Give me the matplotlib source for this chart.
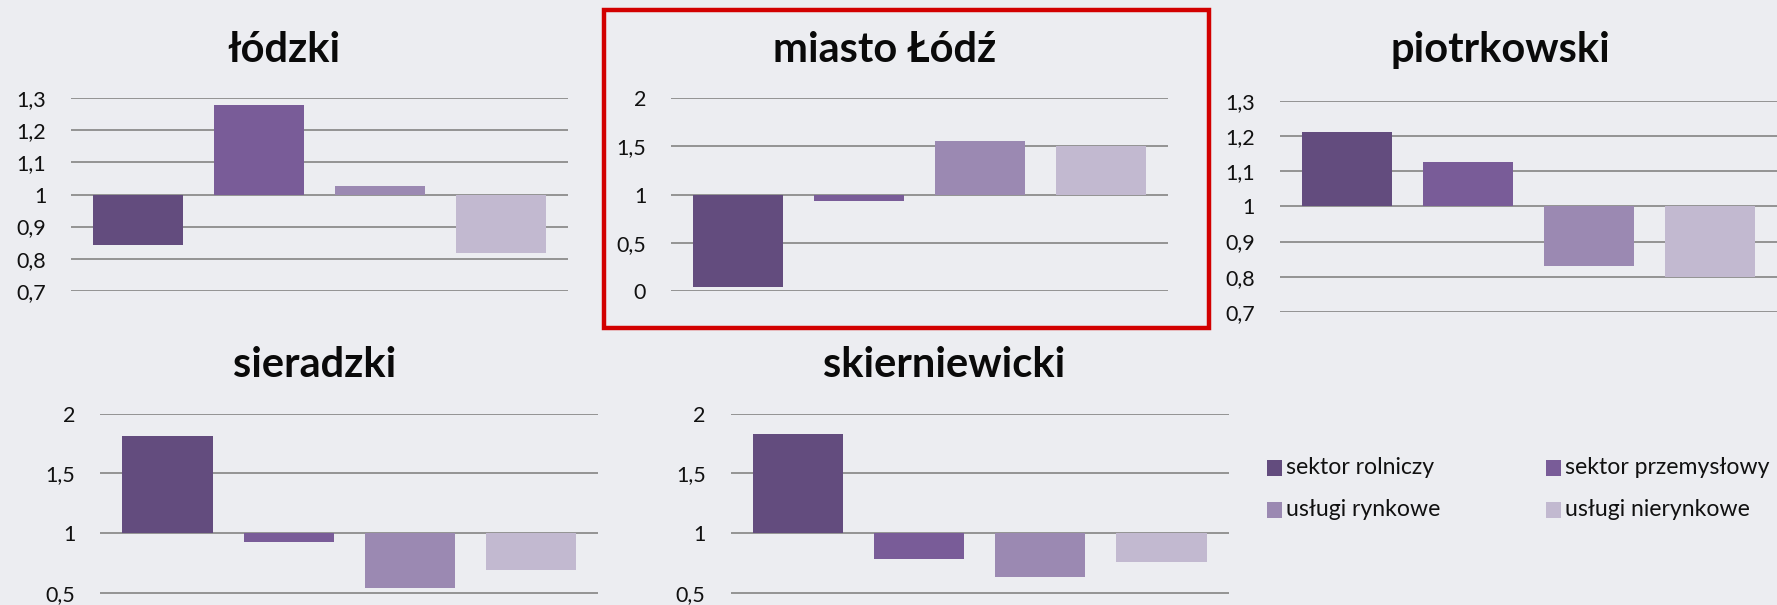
import matplotlib
matplotlib.use("Agg")
import matplotlib.pyplot as plt
from matplotlib.patches import Rectangle

# ---------------- data ----------------
series = ["sektor rolniczy", "sektor przemysłowy", "usługi rynkowe", "usługi nierynkowe"]
colors = ["#634C7E", "#795C98", "#9B89B2", "#C2B9D0"]

titles = ["łódzki", "miasto Łódź", "piotrkowski", "sieradzki", "skierniewicki"]

lodzki = [0.841, 1.280, 1.027, 0.819]
miasto_lodz = [0.035, 0.936, 1.556, 1.504]
piotrkowski = [1.210, 1.125, 0.831, 0.800]
sieradzki = [1.810, 0.925, 0.539, 0.690]
skierniewicki = [1.827, 0.779, 0.631, 0.757]

ticks_a = [0.7, 0.8, 0.9, 1.0, 1.1, 1.2, 1.3]
ticklabels_a = ["0,7", "0,8", "0,9", "1", "1,1", "1,2", "1,3"]
ticks_b = [0.0, 0.5, 1.0, 1.5, 2.0]
ticklabels_b = ["0", "0,5", "1", "1,5", "2"]

baseline = 1.0

# ---------------- layout ----------------
W, H = 1777, 605
fig = plt.figure(figsize=(W / 100, H / 100), dpi=100)
fig.patch.set_facecolor("#ECEDF1")

FONT = "Lato"

def rect(x0, x1, ytop, ybot):
    return [x0 / W, 1 - ybot / H, (x1 - x0) / W, (ybot - ytop) / H]

panels = [
    (lodzki, rect(71.2, 567.9, 98.3, 290.7), (0.7, 1.3), ticks_a, ticklabels_a, (284, 62.3)),
    (miasto_lodz, rect(671.2, 1167.8, 98.3, 290.7), (0.0, 2.0), ticks_b, ticklabels_b, (885, 62.3)),
    (piotrkowski, rect(1279.9, 1777.0, 100.7, 312.0), (0.7, 1.3), ticks_a, ticklabels_a, (1500, 62.0)),
    (sieradzki, rect(100.4, 598.3, 413.7, 652.3), (0.0, 2.0), ticks_b, ticklabels_b, (314.5, 376.7)),
    (skierniewicki, rect(730.6, 1228.6, 413.7, 652.3), (0.0, 2.0), ticks_b, ticklabels_b, (944.5, 376.7)),
]

for (vals, r, ylim, ticks, tlabels, tpos), title in zip(panels, titles):
    ax = fig.add_axes(r)
    ax.set_facecolor("none")
    xs = list(range(len(vals)))
    heights = [v - baseline for v in vals]
    ax.bar(xs, heights, bottom=baseline, width=0.743, color=colors, zorder=3)
    ax.set_xlim(-0.553, 3.553)
    ax.set_ylim(*ylim)
    ax.set_yticks(ticks)
    ax.set_yticklabels(tlabels, fontsize=15.5, family=FONT, color="#111111")
    ax.tick_params(axis="y", length=0, pad=18)
    ax.set_xticks([])
    for s in ax.spines.values():
        s.set_visible(False)
    ax.grid(axis="y", color="#8C8C8C", linewidth=1.3, zorder=0)
    ax.set_axisbelow(True)
    fig.text(tpos[0] / W, 1 - tpos[1] / H, title, ha="center", va="baseline",
             fontsize=30, fontweight="bold", family=FONT, color="#0A0A0A")

# red frame around "miasto Łódź"
fig.patches.append(Rectangle((603.5 / W, 1 - 328.3 / H), (1209 - 603.5) / W, (328.3 - 10) / H,
                             transform=fig.transFigure, fill=False, edgecolor="#D20000",
                             linewidth=3.2, zorder=10))

# legend
leg_cols = [1267.0, 1546.0]
leg_rows = [468, 510]
for i, (name, c) in enumerate(zip(series, colors)):
    lx = leg_cols[i % 2]
    ly = leg_rows[i // 2]
    fig.patches.append(Rectangle((lx / W, 1 - (ly + 7.7) / H), 15.4 / W, 15.4 / H,
                                 transform=fig.transFigure, facecolor=c, edgecolor="none"))
    fig.text((lx + 19.0) / W, 1 - ly / H, name, ha="left", va="center",
             fontsize=16.6, family=FONT, color="#111111")

fig.savefig("out.png", dpi=100, facecolor=fig.get_facecolor())
